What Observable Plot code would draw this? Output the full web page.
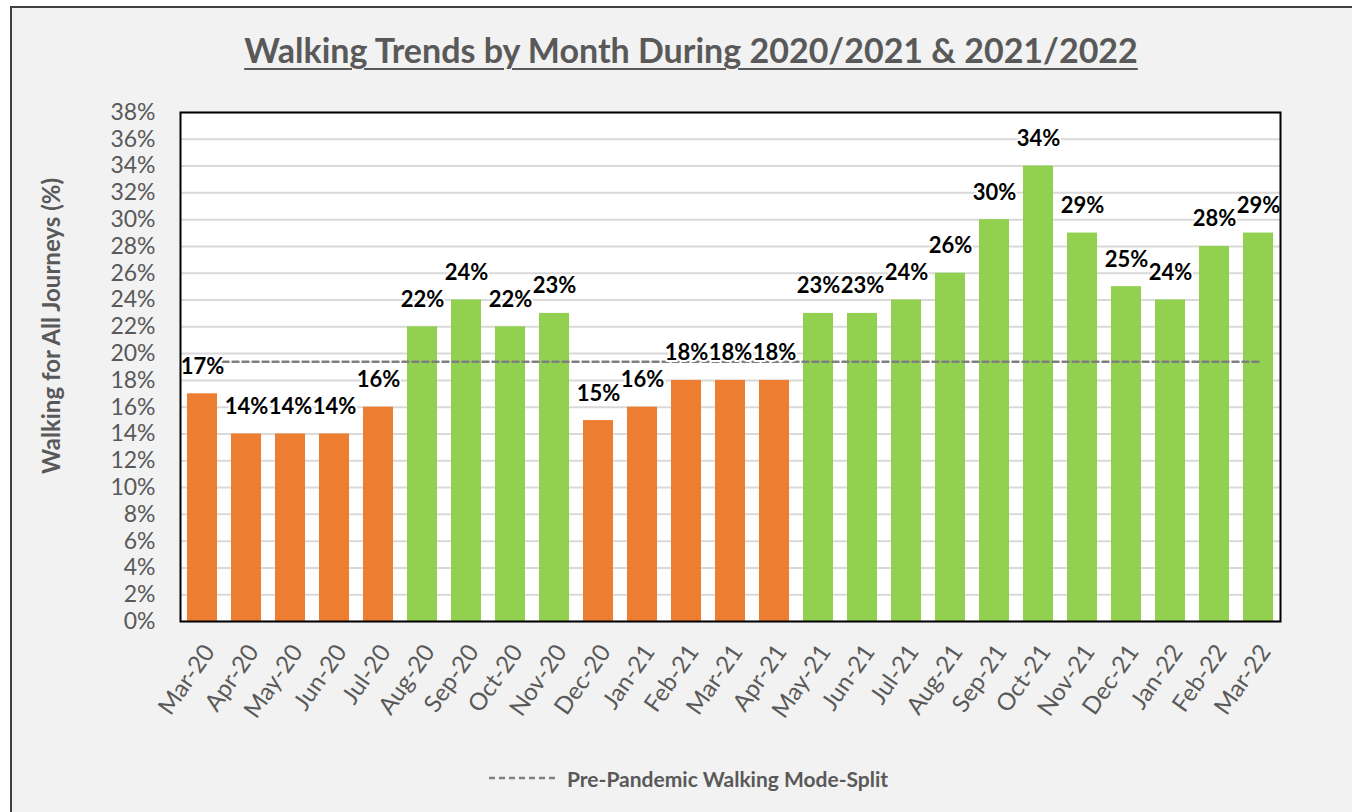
<!DOCTYPE html>
<html><head><meta charset="utf-8">
<script src="https://cdn.jsdelivr.net/npm/d3@7"></script>
<script src="https://cdn.jsdelivr.net/npm/@observablehq/plot@0.6"></script>
<style>
body{margin:0;background:#fff;font-family:Lato,"Open Sans",sans-serif;}
#frame{position:absolute;left:10px;top:6px;width:1350px;height:812px;box-sizing:border-box;border:2px solid #404040;background:#f2f2f2;overflow:hidden;}
#title{height:84px;line-height:84px;text-align:center;padding-left:12px;font-size:34px;font-weight:bold;color:#595959;text-decoration:underline;text-underline-offset:5px;text-decoration-thickness:2px;}
#chart{position:absolute;left:0;top:84px;}
#legend{position:absolute;left:477px;top:756px;height:28px;display:flex;align-items:center;gap:10px;font-size:21px;font-weight:bold;color:#595959;}
</style></head>
<body>
<div id="frame">
  <div id="title">Walking Trends by Month During 2020/2021 &amp; 2021/2022</div>
  <div id="chart"></div>
  <div id="legend"><svg width="68" height="10"><line x1="0" y1="5" x2="68" y2="5" stroke="#7f7f7f" stroke-width="2.5" stroke-dasharray="6,4"/></svg><span>Pre-Pandemic Walking Mode-Split</span></div>
</div>
<script>
const months = ["Mar-20","Apr-20","May-20","Jun-20","Jul-20","Aug-20","Sep-20","Oct-20","Nov-20","Dec-20","Jan-21","Feb-21","Mar-21","Apr-21","May-21","Jun-21","Jul-21","Aug-21","Sep-21","Oct-21","Nov-21","Dec-21","Jan-22","Feb-22","Mar-22"];
const walkingShare = [0.17,0.14,0.14,0.14,0.16,0.22,0.24,0.22,0.23,0.15,0.16,0.18,0.18,0.18,0.23,0.23,0.24,0.26,0.30,0.34,0.29,0.25,0.24,0.28,0.29];
const belowPre = [true,true,true,true,true,false,false,false,false,true,true,true,true,true,false,false,false,false,false,false,false,false,false,false,false];
const prePandemic = 0.194;
const yTicks = d3.range(0, 0.381, 0.02);

const data = months.map((m,i)=>({month:m, value:walkingShare[i], group: belowPre[i] ? "below" : "above"}));

const chart = Plot.plot({
  width: 1340,
  height: 660,
  marginLeft: 168,
  marginRight: 72,
  marginTop: 20,
  marginBottom: 131,
  style: {background: "transparent", fontFamily: "Lato, 'Open Sans', sans-serif", color: "#595959"},
  x: {domain: months, paddingInner: 0.32, paddingOuter: 0.16, label: null},
  y: {domain: [0, 0.38], label: null},
  color: {domain: ["below","above"], range: ["#ED7D31","#92D050"]},
  marks: [
    Plot.frame({fill: "white"}),
    Plot.gridY(yTicks, {stroke: "#d9d9d9", strokeOpacity: 1, strokeWidth: 2}),
    Plot.barY(data, {x: "month", y: "value", fill: "group"}),
    Plot.lineY(months, {x: d => d, y: () => prePandemic, stroke: "#7f7f7f", strokeWidth: 2.5, strokeDasharray: "6,4"}),
    Plot.text(data, {x: "month", y: "value", text: d => d3.format(".0%")(d.value), dy: -27, fill: "black", fontWeight: "bold", fontSize: 22, stroke: "white", strokeWidth: 4}),
    Plot.frame({stroke: "black", strokeWidth: 2}),
    Plot.axisY(yTicks, {tickFormat: d3.format(".0%"), tickSize: 0, tickPadding: 25, fontSize: 23, fill: "#595959"}),
    Plot.axisX({tickSize: 0, tickRotate: -55, tickPadding: 26, dx: 7, fontSize: 24, fill: "#595959"}),
    Plot.text(["Walking for All Journeys (%)"], {frameAnchor: "left", textAnchor: "middle", dx: -128, dy: -41, rotate: -90, fontSize: 24, fontWeight: "bold", fill: "#595959"})
  ]
});
document.getElementById("chart").appendChild(chart);
</script>
</body></html>
